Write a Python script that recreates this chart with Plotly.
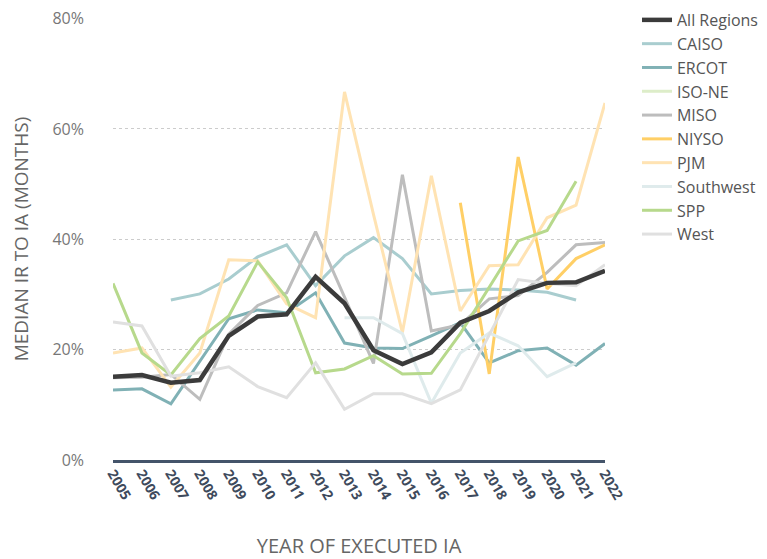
import plotly.graph_objects as go

years = list(range(2005, 2023))
tick_labels = [str(y) for y in years]
y_ticks = [0, 20, 40, 60, 80]
y_tick_labels = ["0%", "20%", "40%", "60%", "80%"]

all_regions = [15.1, 15.4, 14.0, 14.5, 22.5, 26.0, 26.4, 33.2, 28.4, 19.9, 17.4, 19.5, 24.9, 27.0, 30.4, 32.1, 32.2, 34.3]
caiso = [None, None, 29.0, 30.1, 32.8, 36.8, 39.0, 31.6, 37.0, 40.3, 36.5, 30.1, 30.7, 31.0, 30.8, 30.4, 29.0, None]
ercot = [12.7, 12.9, 10.2, 18.0, 25.6, 27.2, 26.7, 30.3, 21.2, 20.3, 20.2, 22.5, 24.9, 17.6, 19.8, 20.3, 17.2, 21.1]
iso_ne = [None] * 18
miso = [14.9, 15.0, 15.5, 11.0, 22.8, 28.0, 30.3, 41.4, 29.5, 17.5, 51.7, 23.4, 24.5, 29.2, 29.8, 34.0, 39.0, 39.4]
niyso = [None] * 12 + [46.6, 15.6, 54.9, 31.0, 36.5, 39.0]
pjm = [19.4, 20.3, 13.2, 19.4, 36.3, 36.1, 28.3, 25.8, 66.7, 44.5, 23.1, 51.5, 27.0, 35.2, 35.4, 43.9, 46.2, 64.7]
southwest = [None] * 8 + [25.8, 25.8, 22.9, 10.3, 19.4, 23.0, 20.7, 15.1, 17.6, None]
spp = [32.0, 19.4, 15.4, 22.0, 26.1, 35.9, 29.4, 15.8, 16.5, 18.9, 15.6, 15.7, 22.9, 31.2, 39.7, 41.6, 50.5, None]
west = [25.0, 24.3, 15.2, 15.8, 16.9, 13.3, 11.3, 17.6, 9.2, 12.0, 12.0, 10.2, 12.7, 22.7, 32.7, 32.0, 31.6, 35.4]

series = [
    ("All Regions", all_regions, "#3B3B3B", 4.5),
    ("CAISO", caiso, "#A9CDCF", 3),
    ("ERCOT", ercot, "#80B1B5", 3),
    ("ISO-NE", iso_ne, "#DDEDC9", 3),
    ("MISO", miso, "#BDBDBD", 3),
    ("NIYSO", niyso, "#FFCF66", 3),
    ("PJM", pjm, "#FFE3B3", 3),
    ("Southwest", southwest, "#DFEBEC", 3),
    ("SPP", spp, "#B7D98C", 3),
    ("West", west, "#E0E0E0", 3),
]

fig = go.Figure()
names = [s[0] for s in series]
draw_order = series[1:] + series[:1]
for name, vals, color, width in draw_order:
    fig.add_trace(go.Scatter(
        x=years, y=vals, name=name, mode="lines",
        line=dict(color=color, width=width),
        legendgroup=name, legendrank=names.index(name) + 1,
        connectgaps=False,
    ))

font_family = "Open Sans, Lato, sans-serif"

fig.update_layout(
    width=767, height=559,
    margin=dict(l=105, r=170, t=10, b=107, autoexpand=False),
    paper_bgcolor="white", plot_bgcolor="white",
    font=dict(family=font_family, color="#666666"),
    showlegend=True,
    legend=dict(
        x=1.065, xanchor="left", y=1.034, yanchor="top",
        font=dict(size=16, color="#555555"),
        traceorder="grouped", tracegroupgap=0,
        itemwidth=30,
    ),
    xaxis=dict(
        range=[2005, 2022],
        tickmode="array", tickvals=years, ticktext=tick_labels,
        tickangle=60,
        tickfont=dict(size=14, color="#3E4A5C", family=font_family, weight="bold"),
        showgrid=False, zeroline=False,
        showline=True, linecolor="#44546A", linewidth=3,
        ticks="", ticklabelstandoff=-3,
        title=dict(text="YEAR OF EXECUTED IA", font=dict(size=20, color="#666666"), standoff=37),
        automargin=False,
    ),
    yaxis=dict(
        range=[0, 80.1],
        tickmode="array", tickvals=y_ticks, ticktext=y_tick_labels,
        tickfont=dict(size=16, color="#777777"),
        showgrid=True, gridcolor="#CCCCCC", griddash="dot", gridwidth=1,
        zeroline=False, showline=False, ticks="",
        ticklabelstandoff=28, ticklabeloverflow="allow",
        title=dict(text="MEDIAN IR TO IA (MONTHS)", font=dict(size=19, color="#666666"), standoff=20),
        automargin=False,
    ),
)

fig.write_html("out.html")
